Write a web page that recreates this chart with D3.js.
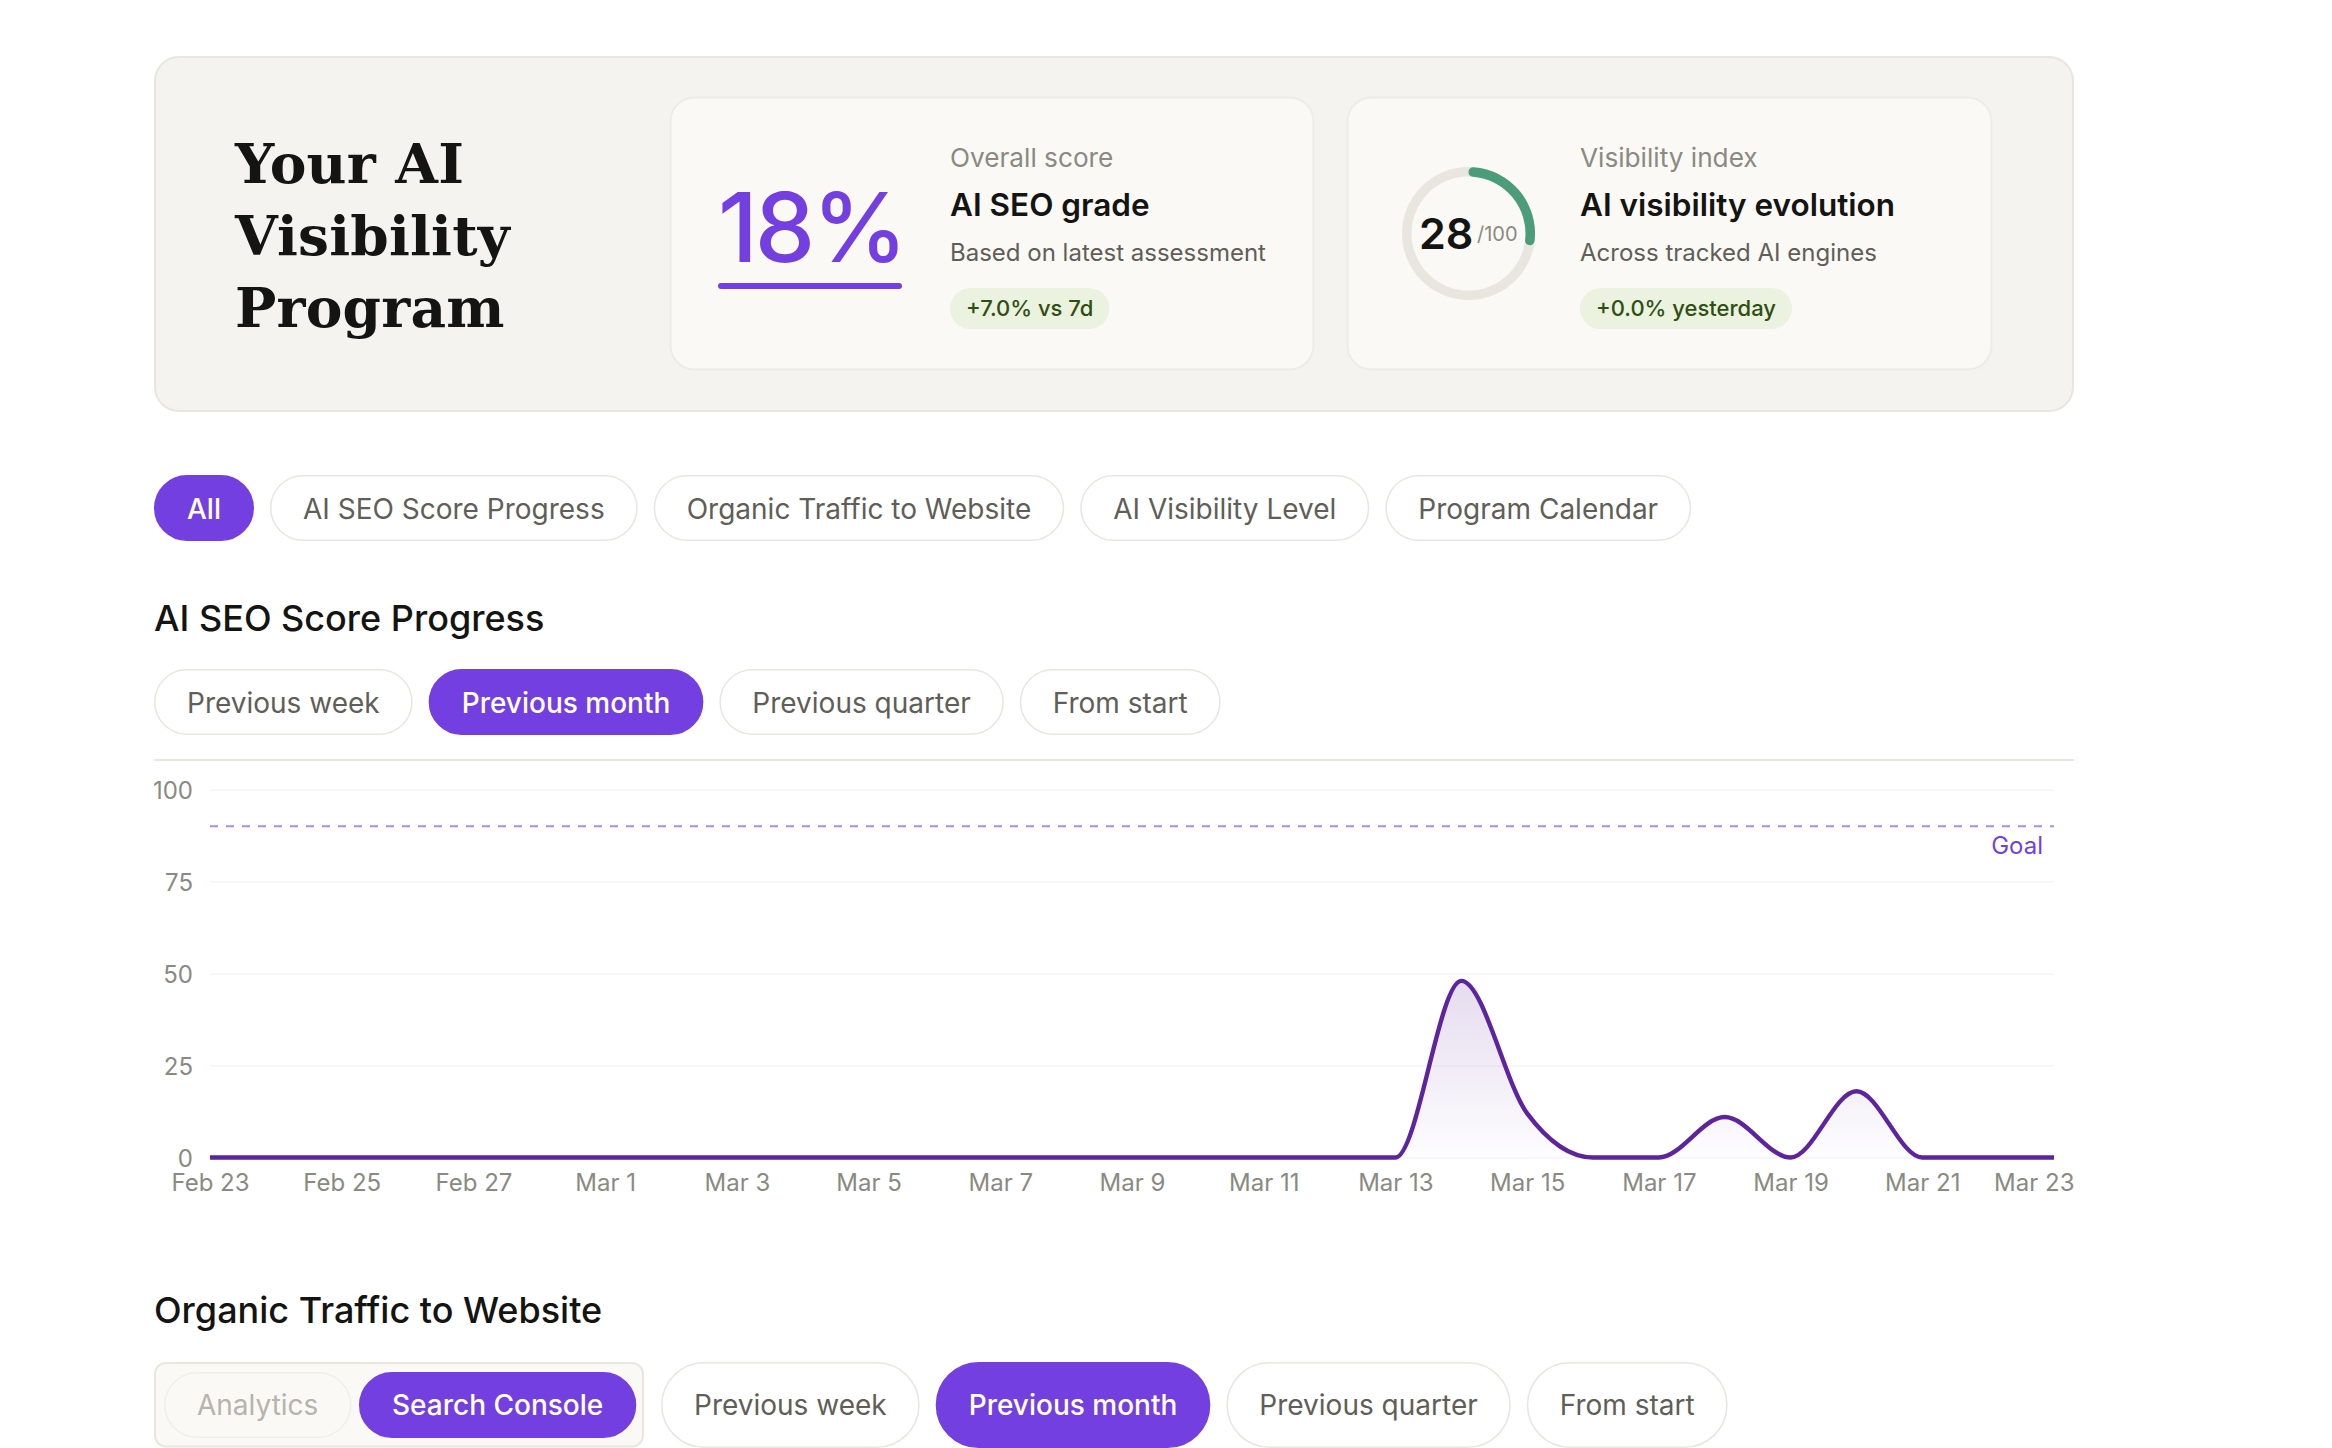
<!DOCTYPE html>
<html lang="en">
<head>
<meta charset="UTF-8">
<title>Your AI Visibility Program</title>
<script src="https://d3js.org/d3.v7.min.js"></script>
<style>
  body { margin: 0; background: #fff; font-family: Inter, sans-serif; overflow: hidden; }
  svg { display: block; }
  .axis path.domain { display: none; }
  .axis text { font-family: Inter, sans-serif; font-size: 24px; fill: #8a8a82; }
  .grid line { stroke: #f7f6fb; stroke-width: 2; }
  .grid text { text-anchor: end; }
</style>
</head>
<body>
<div id="chart"></div>
<script>
const titleLines = ["Your AI", "Visibility", "Program"];
const overallScore = 18;
const visibilityIndex = 28;
const sectionChips = ["All", "AI SEO Score Progress", "Organic Traffic to Website", "AI Visibility Level", "Program Calendar"];
const rangeChips = ["Previous week", "Previous month", "Previous quarter", "From start"];
const sourceChips = ["Analytics", "Search Console"];
const dates = ["2025-02-23","2025-02-24","2025-02-25","2025-02-26","2025-02-27","2025-02-28",
  "2025-03-01","2025-03-02","2025-03-03","2025-03-04","2025-03-05","2025-03-06","2025-03-07",
  "2025-03-08","2025-03-09","2025-03-10","2025-03-11","2025-03-12","2025-03-13","2025-03-14",
  "2025-03-15","2025-03-16","2025-03-17","2025-03-18","2025-03-19","2025-03-20","2025-03-21",
  "2025-03-22","2025-03-23"];
const scores = [0,0,0,0,0,0,0,0,0,0,0,0,0,0,0,0,0,0,0,48,12,0,0,11,0,18,0,0,0];
const goal = 90;
const yTicks = [0, 25, 50, 75, 100];

const purple = "#743fe0", line = "#e8e6df", grey = "#8a8a82", body = "#5f5e58", ink = "#141412";

const svg = d3.select("#chart").append("svg").attr("width", 2332).attr("height", 1448);

function label(g, str, x, y, size, fill, weight) {
  return g.append("text").attr("x", x).attr("y", y).attr("font-size", size)
    .attr("fill", fill).attr("font-weight", weight || 400).text(str);
}

// hero panel
svg.append("rect").attr("x", 155).attr("y", 57).attr("width", 1918).attr("height", 354)
  .attr("rx", 24).attr("fill", "#f4f3ef").attr("stroke", line).attr("stroke-width", 2);

titleLines.forEach((t, i) => {
  label(svg, t, 235, 183 + i * 72, 55, ink, 700)
    .attr("font-family", "DejaVu Serif").attr("letter-spacing", 0.2);
});

function scoreCard(x, w, lines, badgeText, textX) {
  svg.append("rect").attr("x", x + 0.5).attr("y", 97.5).attr("width", w - 1).attr("height", 272)
    .attr("rx", 24).attr("fill", "#faf9f5").attr("stroke", "#eeece6").attr("stroke-width", 2);
  label(svg, lines[0], textX, 167, 26.2, grey);
  label(svg, lines[1], textX, 216, 31.5, ink, 600);
  label(svg, lines[2], textX, 261, 24, body);
  const b = label(svg, badgeText, textX + 16, 316, 22, "#2f4f12", 500);
  const bw = b.node().getComputedTextLength() + 32;
  svg.insert("rect", "text:last-child").attr("x", textX).attr("y", 288).attr("width", bw).attr("height", 41)
    .attr("rx", 20.5).attr("fill", "#ebf2e0");
}
scoreCard(670, 644, ["Overall score", "AI SEO grade", "Based on latest assessment"], "+7.0% vs 7d", 950);
scoreCard(1347, 645, ["Visibility index", "AI visibility evolution", "Across tracked AI engines"], "+0.0% yesterday", 1580);

// big percentage
label(svg, overallScore + "%", 718, 262, 96, purple, 500).attr("letter-spacing", -3);
svg.append("rect").attr("x", 718).attr("y", 283).attr("width", 184).attr("height", 6)
  .attr("rx", 3).attr("fill", purple);

// visibility ring
const ring = svg.append("g").attr("transform", "translate(1468.5,233.5)");
const ringScale = d3.scaleLinear().domain([0, 100]).range([0, 2 * Math.PI]);
const ringArc = d3.arc().innerRadius(57).outerRadius(66.5).cornerRadius(4.7).startAngle(0);
ring.append("path").attr("d", ringArc({ endAngle: ringScale(100) })).attr("fill", "#e8e6df");
ring.append("path").attr("d", ringArc({ endAngle: ringScale(visibilityIndex) })).attr("fill", "#4a9d78");
label(svg, visibilityIndex, 1419, 249, 43, ink, 600);
label(svg, "/100", 1477, 241, 20, grey);

// pill helper, widths come from the text
function pillRow(x0, y, h, labels, active, opts) {
  opts = opts || {};
  const pad = opts.pad || 33, gap = opts.gap || 16, base = opts.baseline;
  let x = x0;
  labels.forEach((t, i) => {
    const on = i === active;
    const g = svg.append("g");
    const r = g.append("rect").attr("y", y + 0.75).attr("height", h - 1.5).attr("rx", (h - 1.5) / 2);
    const txt = label(g, t, x + pad, base, 28, on ? "#fff" : (opts.muted || body), on ? 500 : 400);
    const w = txt.node().getComputedTextLength() + pad * 2;
    r.attr("x", x + 0.75).attr("width", w - 1.5)
      .attr("fill", on ? purple : "#fff").attr("stroke", on ? purple : line).attr("stroke-width", 1.5);
    if (!on && opts.muted) r.attr("fill", "#faf9f5").attr("stroke", "#f0eee8");
    x += w + gap;
  });
  return x;
}

pillRow(154, 475, 66, sectionChips, 0, { baseline: 518.5 });
label(svg, "AI SEO Score Progress", 154, 630.5, 36, ink, 500);
pillRow(154, 669, 66, rangeChips, 1, { baseline: 713 });
svg.append("rect").attr("x", 154).attr("y", 759).attr("width", 1920).attr("height", 2).attr("fill", line);

// score chart
const parse = d3.utcParse("%Y-%m-%d");
const points = dates.map((d, i) => ({ date: parse(d), value: scores[i] }));
const x = d3.scaleUtc().domain(d3.extent(points, d => d.date)).range([210, 2054]);
const y = d3.scaleLinear().domain([0, 100]).range([1157.5, 789.5]);

const defs = svg.append("defs");
const grad = defs.append("linearGradient").attr("id", "area-fill")
  .attr("x1", "0%").attr("y1", "0%").attr("x2", "0%").attr("y2", "100%");
grad.append("stop").attr("offset", "0%").attr("stop-color", "#5e249e").attr("stop-opacity", 0.16);
grad.append("stop").attr("offset", "100%").attr("stop-color", "#5e249e").attr("stop-opacity", 0.01);

const yAxis = svg.append("g").attr("class", "axis grid").attr("transform", "translate(210,0)")
  .call(d3.axisLeft(y).tickValues(yTicks).tickSize(-(2054 - 210)).tickPadding(17));
yAxis.selectAll("text").attr("x", -17).attr("y", 1.5);

svg.append("line").attr("x1", 210).attr("x2", 2054).attr("y1", y(goal)).attr("y2", y(goal))
  .attr("stroke", "#ab8cf0").attr("stroke-width", 2).attr("stroke-dasharray", "8 8");
label(svg, "Goal", 2043, 853.5, 24, purple).attr("text-anchor", "end");

const curve = d3.curveMonotoneX;
svg.append("path").datum(points).attr("fill", "url(#area-fill)")
  .attr("d", d3.area().x(d => x(d.date)).y0(y(0)).y1(d => y(d.value)).curve(curve));
svg.append("path").datum(points).attr("fill", "none").attr("stroke", "#5e249e").attr("stroke-width", 4.4)
  .attr("d", d3.line().x(d => x(d.date)).y(d => y(d.value)).curve(curve));

const xAxis = svg.append("g").attr("class", "axis").attr("transform", "translate(0,1157)")
  .call(d3.axisBottom(x).tickValues(points.filter((d, i) => i % 2 === 0).map(d => d.date))
    .tickFormat(d3.utcFormat("%b %-d")).tickSize(0));
xAxis.selectAll("text").attr("y", 33.5).attr("dy", 0);
// last label is pulled back inside the panel edge
xAxis.selectAll("text").filter((d, i, n) => i === n.length - 1)
  .attr("text-anchor", "end").attr("x", 20);

// organic traffic section
label(svg, "Organic Traffic to Website", 154, 1323, 36, ink, 500);
svg.append("rect").attr("x", 155).attr("y", 1363).attr("width", 488).attr("height", 83.5)
  .attr("rx", 11).attr("fill", "#faf9f5").attr("stroke", line).attr("stroke-width", 2);
pillRow(164, 1372, 66, [sourceChips[0]], -1, { baseline: 1415, muted: "#b5b4ae" });
pillRow(359, 1372, 66, [sourceChips[1]], 0, { baseline: 1415 });
pillRow(661, 1362, 86, rangeChips, 1, { baseline: 1415 });
</script>
</body>
</html>
